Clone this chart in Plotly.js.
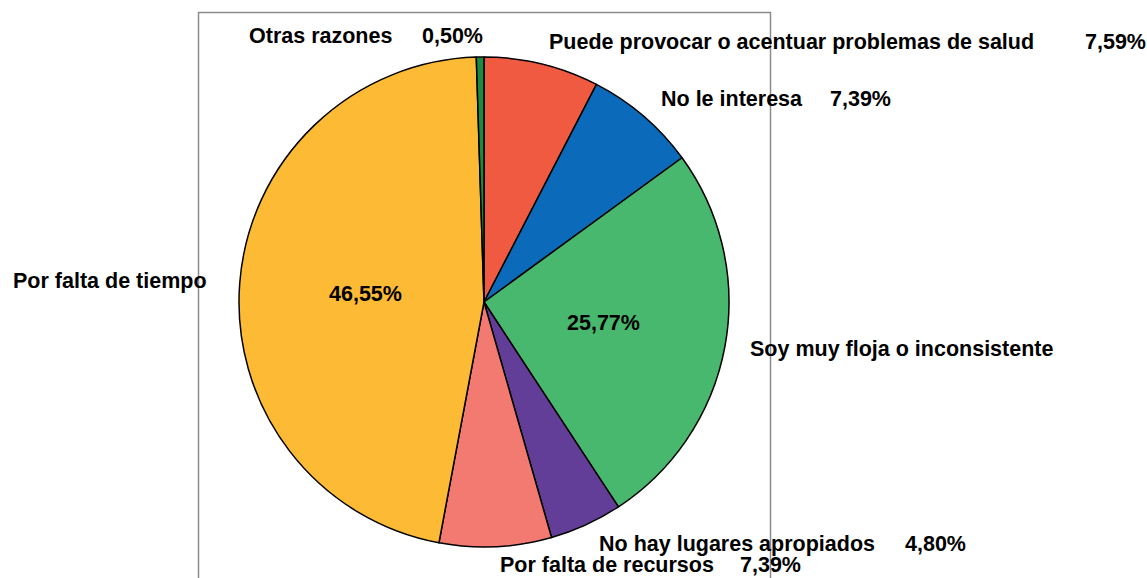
<!DOCTYPE html>
<html>
<head>
<meta charset="utf-8">
<script src="https://cdn.plot.ly/plotly-3.0.1.min.js"></script>
<style>html,body{margin:0;padding:0;background:#fff;}#chart{width:1147px;height:578px;}</style>
</head>
<body>
<div id="chart"></div>
<script>
const labels = [
  "Puede provocar o acentuar problemas de salud",
  "No le interesa",
  "Soy muy floja o inconsistente",
  "No hay lugares apropiados",
  "Por falta de recursos",
  "Por falta de tiempo",
  "Otras razones"
];
const values = [7.59, 7.39, 25.77, 4.80, 7.39, 46.55, 0.50];
const valueText = ["7,59%", "7,39%", "25,77%", "4,80%", "7,39%", "46,55%", "0,50%"];
const colors = ["#F05A40", "#0C6ABA", "#47B86D", "#633E98", "#F27A70", "#FDBA35", "#1C8A3E"];

const W = 1147, H = 578;
const cx = 484, cy = 302, r = 245;

// label placement (pixel positions of label text and value text)
const labelPos = [
  {lx: 547, vx: 1083, y: 42},
  {lx: 659, vx: 828, y: 99},
  {lx: 748, vx: null, y: 349, inside: [603, 323]},
  {lx: 597, vx: 903, y: 544},
  {lx: 498, vx: 738, y: 565},
  {lx: 11, vx: null, y: 281, inside: [365, 294]},
  {lx: 247, vx: 420, y: 36}
];

const font = {family: "Liberation Sans, Arial, sans-serif", size: 21.5, color: "#000"};
const annotations = [];
labels.forEach((lab, i) => {
  const p = labelPos[i];
  annotations.push({xref: "paper", yref: "paper", x: p.lx / W, y: 1 - p.y / H,
    xanchor: "left", yanchor: "middle", text: "<b>" + lab + "</b>", showarrow: false, font: font});
  if (p.vx !== null) {
    annotations.push({xref: "paper", yref: "paper", x: p.vx / W, y: 1 - p.y / H,
      xanchor: "left", yanchor: "middle", text: "<b>" + valueText[i] + "</b>", showarrow: false, font: font});
  } else {
    annotations.push({xref: "paper", yref: "paper", x: p.inside[0] / W, y: 1 - p.inside[1] / H,
      xanchor: "center", yanchor: "middle", text: "<b>" + valueText[i] + "</b>", showarrow: false, font: font});
  }
});

const trace = {
  type: "pie",
  labels: labels,
  values: values,
  sort: false,
  direction: "clockwise",
  rotation: 0,
  textinfo: "none",
  hoverinfo: "label+percent",
  marker: {colors: colors, line: {color: "#000", width: 1.5}},
  domain: {x: [(cx - r) / W, (cx + r) / W], y: [(H - cy - r) / H, (H - cy + r) / H]},
  showlegend: false
};

const layout = {
  width: W, height: H,
  margin: {l: 0, r: 0, t: 0, b: 0},
  paper_bgcolor: "#fff",
  showlegend: false,
  shapes: [{type: "rect", xref: "paper", yref: "paper",
    x0: 198.5 / W, x1: 770.5 / W, y0: -0.05, y1: 1 - 12.5 / H,
    line: {color: "#8c8c8c", width: 1.5}, layer: "below"}],
  annotations: annotations
};

Plotly.newPlot("chart", [trace], layout, {displayModeBar: false, staticPlot: true});
</script>
</body>
</html>
